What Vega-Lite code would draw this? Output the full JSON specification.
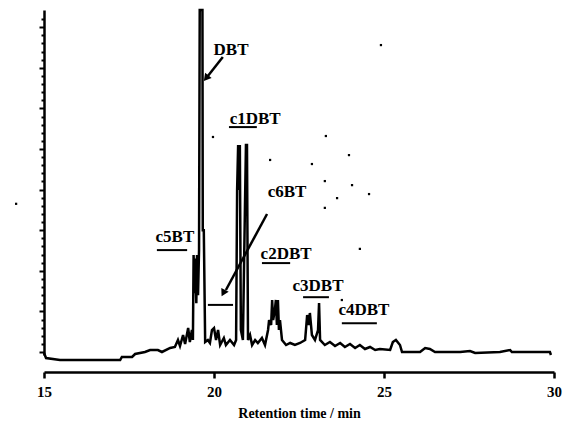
{
  "$schema": "https://vega.github.io/schema/vega-lite/v6.json",
  "autosize": "none",
  "width": 510,
  "height": 345,
  "padding": {"left": 44, "top": 10, "right": 17, "bottom": 74},
  "background": "white",
  "config": {"view": {"stroke": null}},
  "datasets": {
    "trace": [
      {"t": 15.00, "v": -0.25}, {"t": 15.06, "v": -1.48}, {"t": 15.47, "v": -1.97}, {"t": 16.06, "v": -1.97},
      {"t": 16.65, "v": -1.97}, {"t": 17.24, "v": -1.97}, {"t": 17.29, "v": -1.23}, {"t": 17.59, "v": -1.23},
      {"t": 17.68, "v": -0.49}, {"t": 17.97, "v": 0.0}, {"t": 18.12, "v": 0.49}, {"t": 18.35, "v": 0.49},
      {"t": 18.47, "v": 0.0}, {"t": 18.71, "v": 0.99}, {"t": 18.85, "v": 1.23}, {"t": 18.94, "v": 2.96},
      {"t": 19.00, "v": 1.48}, {"t": 19.09, "v": 4.19}, {"t": 19.15, "v": 1.97}, {"t": 19.24, "v": 5.91},
      {"t": 19.29, "v": 2.46}, {"t": 19.35, "v": 5.42}, {"t": 19.38, "v": 2.96}, {"t": 19.40, "v": 23.89},
      {"t": 19.43, "v": 14.5}, {"t": 19.45, "v": 23.0}, {"t": 19.48, "v": 12.0}, {"t": 19.50, "v": 23.89},
      {"t": 19.53, "v": 14.0}, {"t": 19.56, "v": 25.12},
      {"t": 19.58, "v": 84.24}, {"t": 19.66, "v": 84.24}, {"t": 19.67, "v": 30.0}, {"t": 19.70, "v": 30.0},
      {"t": 19.74, "v": 2.46}, {"t": 19.82, "v": 2.96}, {"t": 19.88, "v": 2.22}, {"t": 19.94, "v": 5.42},
      {"t": 20.00, "v": 5.91}, {"t": 20.06, "v": 2.96}, {"t": 20.12, "v": 5.42}, {"t": 20.18, "v": 1.72},
      {"t": 20.29, "v": 3.45}, {"t": 20.35, "v": 1.72}, {"t": 20.47, "v": 2.96}, {"t": 20.59, "v": 1.72},
      {"t": 20.65, "v": 2.96}, {"t": 20.68, "v": 39.90}, {"t": 20.71, "v": 50.99}, {"t": 20.74, "v": 39.90},
      {"t": 20.76, "v": 50.99}, {"t": 20.79, "v": 5.42}, {"t": 20.85, "v": 2.96}, {"t": 20.91, "v": 35.47},
      {"t": 20.94, "v": 50.99}, {"t": 20.97, "v": 50.99}, {"t": 21.00, "v": 2.96}, {"t": 21.06, "v": 4.19},
      {"t": 21.12, "v": 1.72}, {"t": 21.21, "v": 2.96}, {"t": 21.29, "v": 2.22}, {"t": 21.41, "v": 3.45},
      {"t": 21.50, "v": 1.72}, {"t": 21.59, "v": 5.42}, {"t": 21.62, "v": 7.88}, {"t": 21.68, "v": 6.65},
      {"t": 21.71, "v": 12.81}, {"t": 21.74, "v": 7.88}, {"t": 21.79, "v": 10.34}, {"t": 21.82, "v": 12.81},
      {"t": 21.85, "v": 6.65}, {"t": 21.88, "v": 12.81}, {"t": 21.91, "v": 5.42}, {"t": 21.94, "v": 7.88},
      {"t": 22.00, "v": 2.96}, {"t": 22.12, "v": 1.72}, {"t": 22.24, "v": 2.22}, {"t": 22.38, "v": 1.72},
      {"t": 22.53, "v": 2.22}, {"t": 22.68, "v": 2.96}, {"t": 22.74, "v": 9.11}, {"t": 22.79, "v": 6.65},
      {"t": 22.82, "v": 9.61}, {"t": 22.88, "v": 4.19}, {"t": 22.97, "v": 2.96}, {"t": 23.06, "v": 5.42},
      {"t": 23.09, "v": 12.07}, {"t": 23.12, "v": 2.96}, {"t": 23.26, "v": 1.72}, {"t": 23.41, "v": 2.46},
      {"t": 23.56, "v": 1.48}, {"t": 23.71, "v": 2.22}, {"t": 23.85, "v": 1.23}, {"t": 24.00, "v": 1.97},
      {"t": 24.15, "v": 0.99}, {"t": 24.29, "v": 1.72}, {"t": 24.44, "v": 0.74}, {"t": 24.59, "v": 1.23},
      {"t": 24.74, "v": 0.49}, {"t": 24.88, "v": 0.74}, {"t": 25.18, "v": 0.49}, {"t": 25.26, "v": 2.46},
      {"t": 25.35, "v": 2.96}, {"t": 25.47, "v": 1.72}, {"t": 25.53, "v": 0.0}, {"t": 26.06, "v": 0.0},
      {"t": 26.21, "v": 0.99}, {"t": 26.35, "v": 0.74}, {"t": 26.50, "v": 0.0}, {"t": 27.24, "v": 0.0},
      {"t": 27.53, "v": 0.25}, {"t": 27.68, "v": -0.25}, {"t": 28.41, "v": 0.0}, {"t": 28.71, "v": 0.49},
      {"t": 28.76, "v": 0.0}, {"t": 29.88, "v": 0.0}, {"t": 29.91, "v": -0.74}
    ],
    "labels": [
      {"label": "DBT", "t": 20.50, "v": 74.4},
      {"label": "c1DBT", "t": 21.21, "v": 57.4},
      {"label": "c6BT", "t": 22.15, "v": 39.4},
      {"label": "c5BT", "t": 18.85, "v": 28.3},
      {"label": "c2DBT", "t": 22.12, "v": 24.1},
      {"label": "c3DBT", "t": 23.06, "v": 16.3},
      {"label": "c4DBT", "t": 24.41, "v": 10.3}
    ],
    "underlines": [
      {"name": "c5BT", "t": 18.32, "t2": 19.21, "v": 25.1},
      {"name": "c6BT", "t": 19.82, "t2": 20.56, "v": 11.6},
      {"name": "c1DBT", "t": 20.44, "t2": 21.26, "v": 55.4},
      {"name": "c2DBT", "t": 21.41, "t2": 22.24, "v": 21.9},
      {"name": "c3DBT", "t": 22.62, "t2": 23.38, "v": 13.5},
      {"name": "c4DBT", "t": 23.76, "t2": 24.79, "v": 7.1}
    ],
    "arrows": [
      {"name": "DBT", "t": 20.26, "v": 72.66, "t2": 19.82, "v2": 67.98, "ht": 19.79, "hv": 67.7, "angle": 219},
      {"name": "c6BT", "t": 21.56, "v": 33.99, "t2": 20.35, "v2": 15.27, "ht": 20.29, "hv": 14.78, "angle": 208}
    ],
    "specks": [
      {"t": 24.91, "v": 75.6}, {"t": 19.97, "v": 52.96}, {"t": 23.29, "v": 53.2}, {"t": 21.65, "v": 47.3},
      {"t": 22.88, "v": 46.3}, {"t": 23.97, "v": 48.5}, {"t": 23.26, "v": 42.1}, {"t": 24.06, "v": 41.1},
      {"t": 23.62, "v": 37.9}, {"t": 24.56, "v": 38.9}, {"t": 23.26, "v": 35.5}, {"t": 24.29, "v": 25.4},
      {"t": 23.76, "v": 12.8}, {"t": 14.18, "v": 36.5}
    ]
  },
  "encoding": {
    "x": {
      "field": "t", "type": "quantitative",
      "scale": {"domain": [15, 30], "nice": false, "zero": false},
      "axis": {
        "title": "Retention time / min",
        "values": [15, 20, 25, 30],
        "offset": 17,
        "grid": false,
        "domainColor": "black", "domainWidth": 2.5,
        "tickColor": "black", "tickWidth": 2.5, "tickSize": 6,
        "labelFont": "Liberation Serif", "labelFontWeight": "bold", "labelFontSize": 15, "labelColor": "black",
        "labelPadding": 6, "labelFlush": false,
        "titleFont": "Liberation Serif", "titleFontWeight": "bold", "titleFontSize": 14, "titleColor": "black",
        "titlePadding": 7
      }
    },
    "y": {
      "field": "v", "type": "quantitative",
      "scale": {"domain": [-0.74, 84.24], "nice": false, "zero": false},
      "axis": {
        "title": null,
        "labels": false,
        "grid": false,
        "values": [0, 2, 4, 6, 8, 10, 12, 14, 16, 18, 20, 22, 24, 26, 28, 30, 32, 34, 36, 38, 40, 42, 44, 46, 48, 50, 52, 54, 56, 58, 60, 62, 64, 66, 68, 70, 72, 74, 76, 78, 80, 82],
        "domainColor": "black", "domainWidth": 2.5,
        "tickColor": "black", "tickWidth": 2,
        "tickSize": {"condition": {"test": "datum.value % 10 === 0", "value": 5}, "value": 3}
      }
    }
  },
  "layer": [
    {
      "data": {"name": "trace"},
      "mark": {"type": "line", "color": "black", "strokeWidth": 2.5, "strokeJoin": "miter"},
      "encoding": {}
    },
    {
      "data": {"name": "underlines"},
      "mark": {"type": "rule", "color": "black", "strokeWidth": 2},
      "encoding": {"x2": {"field": "t2"}}
    },
    {
      "data": {"name": "arrows"},
      "mark": {"type": "rule", "color": "black", "strokeWidth": 2.5},
      "encoding": {"x2": {"field": "t2"}, "y2": {"field": "v2"}}
    },
    {
      "data": {"name": "arrows"},
      "mark": {"type": "point", "shape": "triangle", "filled": true, "color": "black", "size": 70, "opacity": 1},
      "encoding": {
        "x": {"field": "ht", "type": "quantitative"},
        "y": {"field": "hv", "type": "quantitative"},
        "angle": {"field": "angle", "type": "quantitative", "scale": null}
      }
    },
    {
      "data": {"name": "labels"},
      "mark": {"type": "text", "font": "Liberation Serif", "fontWeight": "bold", "fontSize": 17, "color": "black", "align": "center", "baseline": "middle"},
      "encoding": {"text": {"field": "label"}}
    },
    {
      "data": {"name": "specks"},
      "mark": {"type": "point", "shape": "square", "filled": true, "color": "black", "size": 5, "opacity": 1},
      "encoding": {}
    }
  ]
}
